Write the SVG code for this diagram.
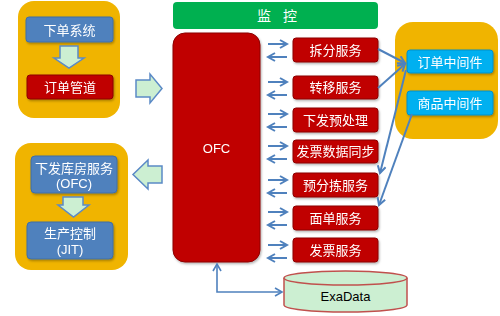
<svg xmlns="http://www.w3.org/2000/svg" width="500" height="316" viewBox="0 0 500 316">
<defs>
<style>
.t{font-family:"Liberation Sans","Noto Sans CJK SC",sans-serif;font-size:13px;fill:#fff;text-anchor:middle;dominant-baseline:central}
.yb{fill:#F0B400}
.blue{fill:#4F81BD;stroke:#3F6EA6;stroke-width:1}
.red{fill:#C00000;stroke:#8C0000;stroke-width:1}
.cyan{fill:#00B0F0;stroke:#0090C8;stroke-width:1}
.blk{fill:#CCEFD2;stroke:#5B8AC6;stroke-width:1.5;stroke-linejoin:miter}
.ln{fill:none;stroke:#4F81BD;stroke-width:2}
</style>
<marker id="ah" markerWidth="10" markerHeight="10" refX="8" refY="5" orient="auto" markerUnits="userSpaceOnUse">
<path d="M1,1 L8,5 L1,9" fill="none" stroke="#4F81BD" stroke-width="2"/>
</marker>
<marker id="as" markerWidth="10" markerHeight="10" refX="8" refY="5" orient="auto-start-reverse" markerUnits="userSpaceOnUse">
<path d="M1,1 L8,5 L1,9" fill="none" stroke="#4F81BD" stroke-width="1.6"/>
</marker>
<filter id="sh" x="-10%" y="-10%" width="130%" height="140%">
<feDropShadow dx="1" dy="1.5" stdDeviation="1" flood-color="#000" flood-opacity="0.3"/>
</filter>
</defs>

<g id="order-group">
<rect class="yb" x="18" y="1" width="102" height="117" rx="16"/>
<g id="order-system" filter="url(#sh)"><rect class="blue" x="26" y="17" width="87" height="25" rx="3"/><text class="t" x="69.5" y="30">下单系统</text></g>
<path class="blk" d="M60,46 H78 V58 H84 L69,68 L54,58 H60 Z"/>
<g id="order-pipeline" filter="url(#sh)"><rect class="red" x="27" y="75" width="86" height="24" rx="3"/><text class="t" x="70" y="87">订单管道</text></g>
</g>

<path id="arrow-in" class="blk" d="M136,80 H150 V74 L162,88.5 L150,103 V97 H136 Z"/>
<path id="arrow-out" class="blk" d="M162,166 H148 V160 L133,174.5 L148,189 V183 H162 Z"/>

<g id="warehouse-group">
<rect class="yb" x="15" y="143" width="113" height="127" rx="16"/>
<g id="warehouse" filter="url(#sh)"><rect class="blue" x="31" y="156" width="86" height="37" rx="4"/><text class="t" x="74" y="168">下发库房服务</text><text class="t" x="74" y="183">(OFC)</text></g>
<path class="blk" d="M63,197 H83 V205 H89 L73.5,217 L58,205 H63 Z"/>
<g id="jit" filter="url(#sh)"><rect class="blue" x="27" y="222" width="86" height="37" rx="4"/><text class="t" x="70" y="233">生产控制</text><text class="t" x="70" y="249">(JIT)</text></g>
</g>

<g id="monitor"><rect x="173" y="2" width="205" height="27" rx="4" fill="#00B050"/><text class="t" x="257" y="16" style="text-anchor:start;font-size:14px" word-spacing="8">监 控</text></g>

<g id="ofc" filter="url(#sh)"><rect class="red" x="173" y="33" width="87" height="229" rx="12"/><text class="t" x="216.5" y="148">OFC</text></g>

<g id="middleware-group">
<rect class="yb" x="395" y="22" width="103" height="117" rx="18"/>
<g id="order-middleware" filter="url(#sh)"><rect class="cyan" x="407" y="50" width="86" height="23" rx="3"/><text class="t" x="450" y="62">订单中间件</text></g>
<g id="product-middleware" filter="url(#sh)"><rect class="cyan" x="407" y="91" width="86" height="24" rx="3"/><text class="t" x="450" y="103">商品中间件</text></g>
</g>

<g id="svc-split" filter="url(#sh)"><rect class="red" x="293" y="38" width="85" height="24" rx="3"/><text class="t" x="335.5" y="50">拆分服务</text></g>
<g id="svc-transfer" filter="url(#sh)"><rect class="red" x="293" y="76" width="85" height="23" rx="3"/><text class="t" x="335.5" y="87.5">转移服务</text></g>
<g id="svc-preprocess" filter="url(#sh)"><rect class="red" x="293" y="108" width="85" height="24" rx="3"/><text class="t" x="335.5" y="120">下发预处理</text></g>
<g id="svc-invoice-sync" filter="url(#sh)"><rect class="red" x="293" y="140" width="85" height="23" rx="3"/><text class="t" x="335.5" y="151.5">发票数据同步</text></g>
<g id="svc-presort" filter="url(#sh)"><rect class="red" x="293" y="173" width="85" height="24" rx="3"/><text class="t" x="335.5" y="185">预分拣服务</text></g>
<g id="svc-waybill" filter="url(#sh)"><rect class="red" x="293" y="206" width="85" height="24" rx="3"/><text class="t" x="335.5" y="218">面单服务</text></g>
<g id="svc-invoice" filter="url(#sh)"><rect class="red" x="293" y="238" width="85" height="24" rx="3"/><text class="t" x="335.5" y="250">发票服务</text></g>

<g id="exadata">
<path d="M284,278 V305 A61.5,7 0 0 0 407,305 V278" fill="#CCEFD2" stroke="#C0504D" stroke-width="1.5"/>
<ellipse cx="345.5" cy="278" rx="61.5" ry="7" fill="#CCEFD2" stroke="#C0504D" stroke-width="1.5"/>
<text x="345.5" y="296" style="font-family:'Liberation Sans',sans-serif;font-size:13px;fill:#000;text-anchor:middle;dominant-baseline:central">ExaData</text>
</g>

<g id="connectors">
<path class="ln" marker-end="url(#ah)" d="M268,44 H287"/><path class="ln" marker-end="url(#ah)" d="M287,57 H268"/>
<path class="ln" marker-end="url(#ah)" d="M268,82 H287"/><path class="ln" marker-end="url(#ah)" d="M287,95 H268"/>
<path class="ln" marker-end="url(#ah)" d="M268,114 H287"/><path class="ln" marker-end="url(#ah)" d="M287,127 H268"/>
<path class="ln" marker-end="url(#ah)" d="M268,146 H287"/><path class="ln" marker-end="url(#ah)" d="M287,159 H268"/>
<path class="ln" marker-end="url(#ah)" d="M268,180 H287"/><path class="ln" marker-end="url(#ah)" d="M287,193 H268"/>
<path class="ln" marker-end="url(#ah)" d="M268,212 H287"/><path class="ln" marker-end="url(#ah)" d="M287,225 H268"/>
<path class="ln" marker-end="url(#ah)" d="M268,245 H287"/><path class="ln" marker-end="url(#ah)" d="M287,258 H268"/>
<path class="ln" marker-end="url(#ah)" d="M378,49 L405,63"/>
<path class="ln" marker-end="url(#ah)" d="M378,88 L405,64"/>
<path class="ln" marker-end="url(#ah)" d="M406,70 L380,173"/>
<path class="ln" marker-end="url(#ah)" d="M412,114 L379,205"/>
<path fill="none" stroke="#4F81BD" stroke-width="1.6" marker-start="url(#as)" marker-end="url(#as)" d="M217,264 V292 H282"/>
</g>
</svg>
